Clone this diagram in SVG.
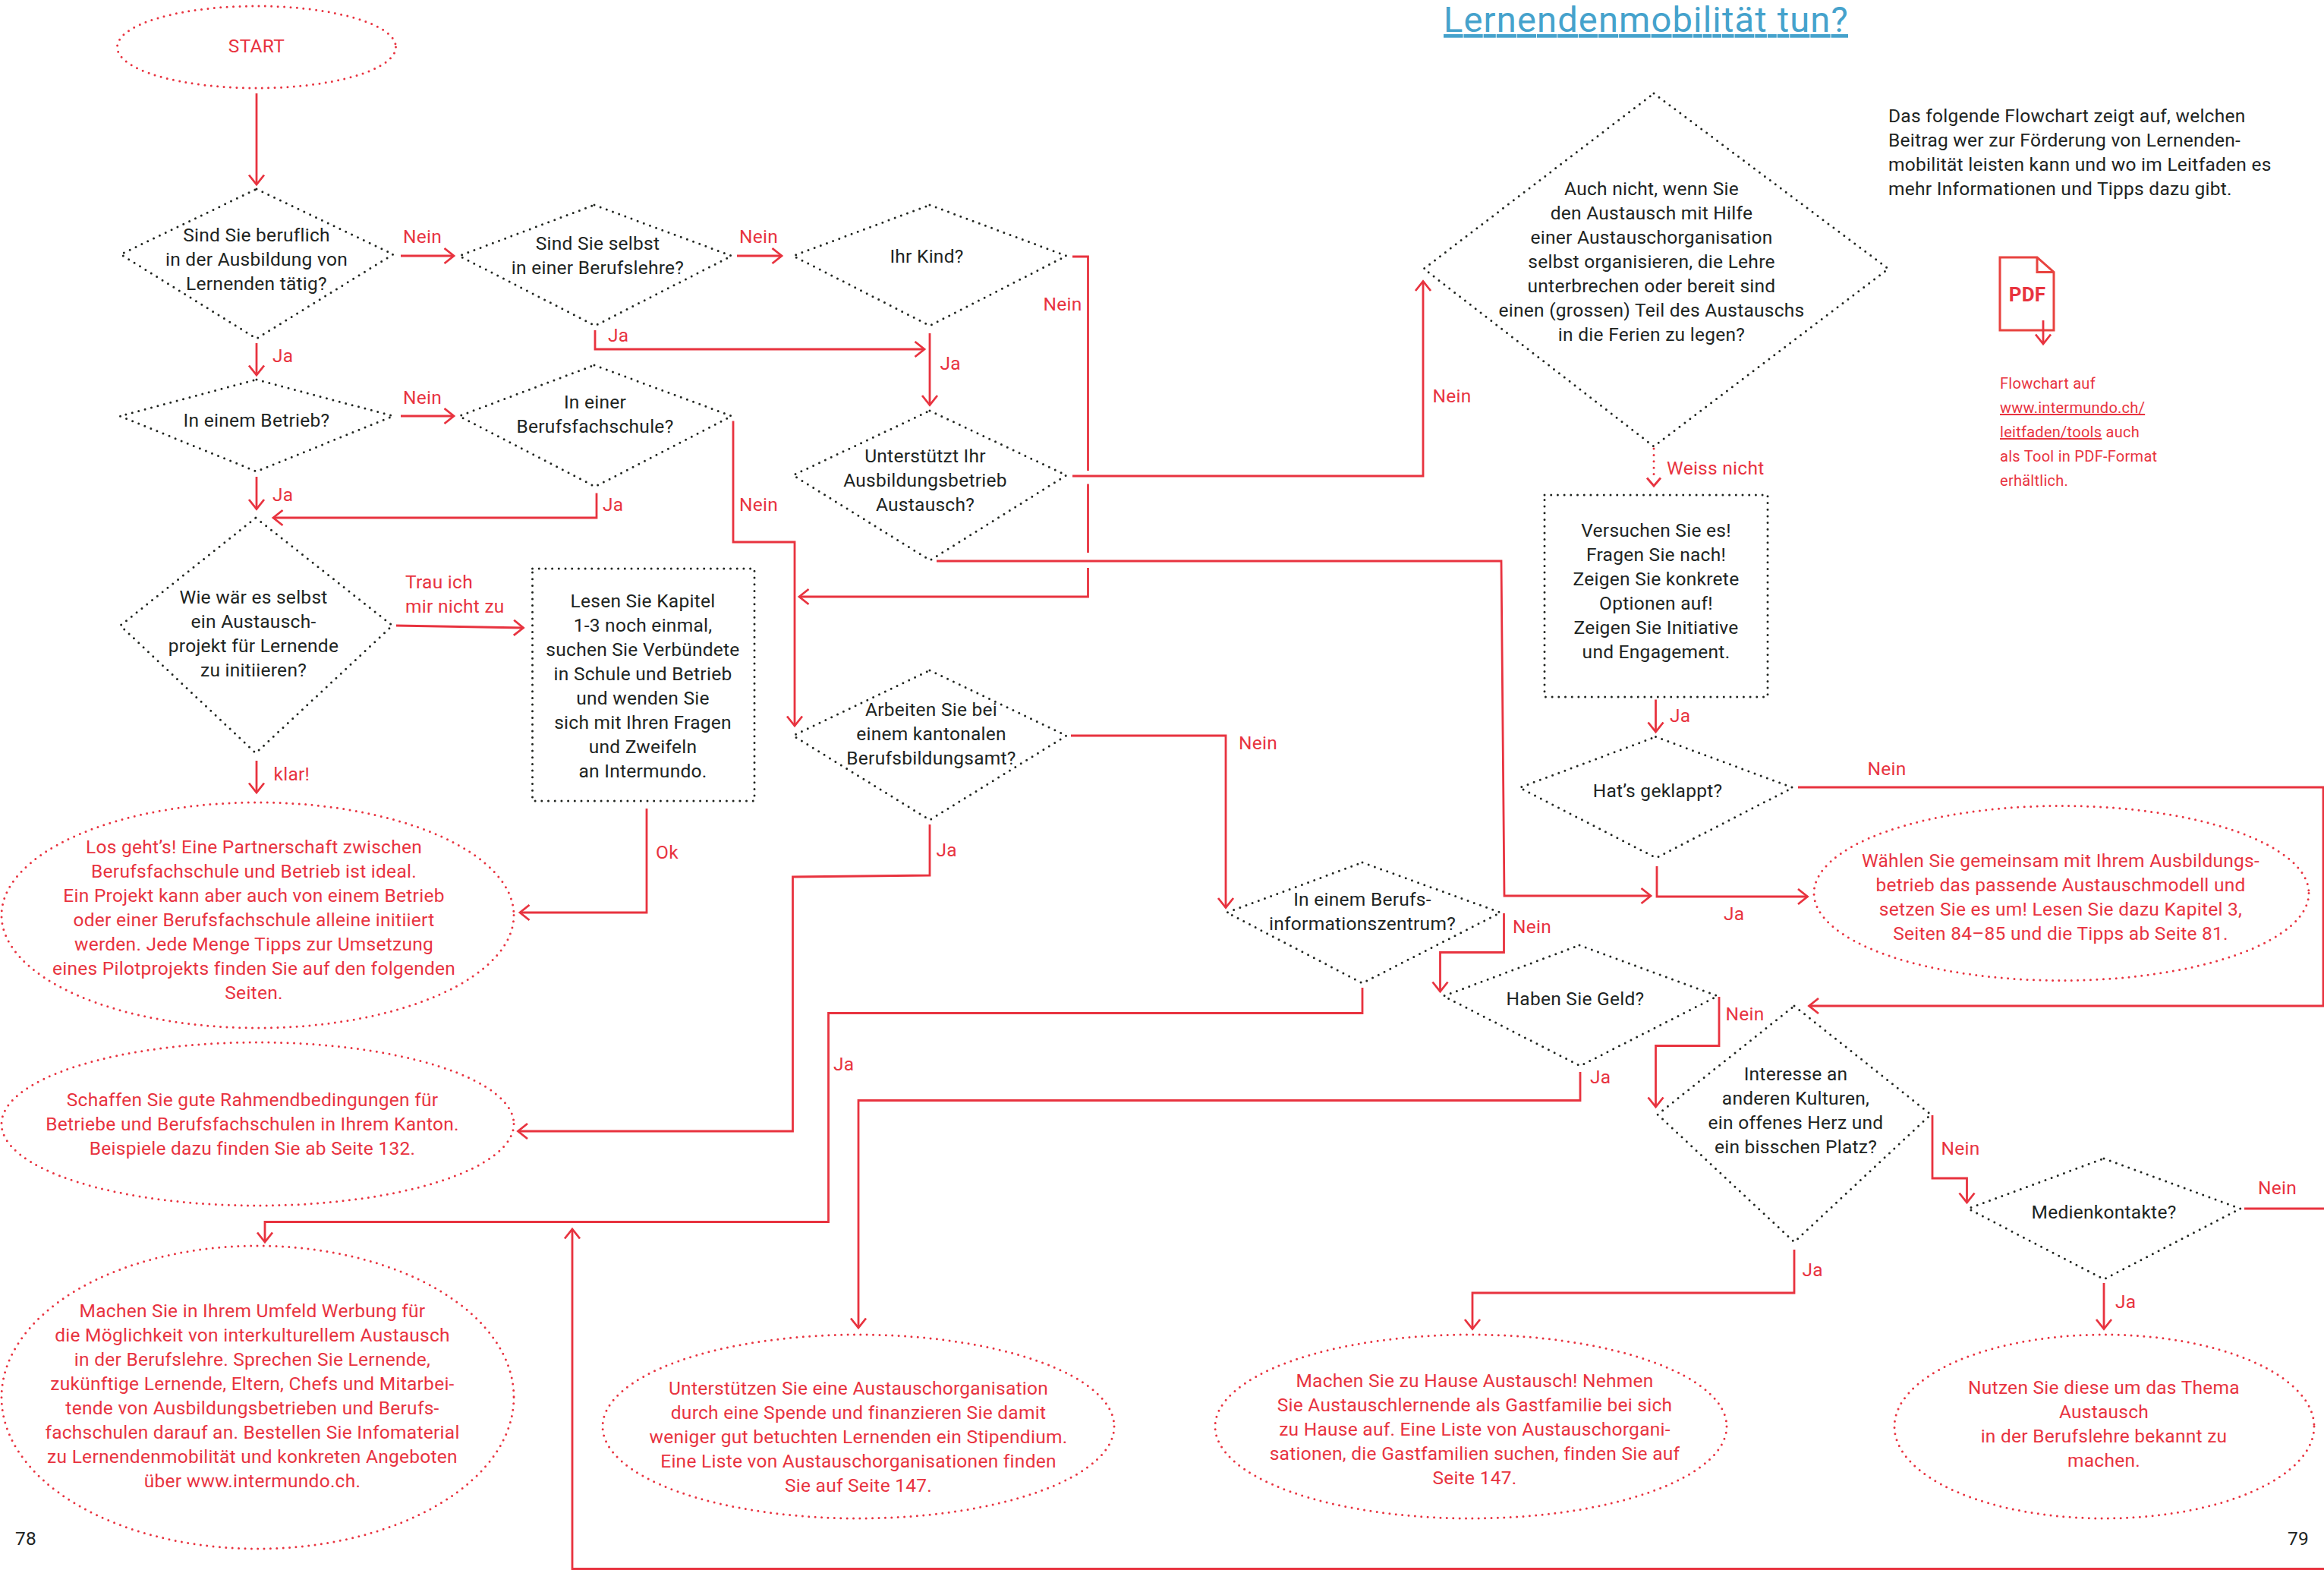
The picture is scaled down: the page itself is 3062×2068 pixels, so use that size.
<svg xmlns="http://www.w3.org/2000/svg" width="3062" height="2068" viewBox="0 0 3062 2068">
<style>
text{font-family:"Roboto","Liberation Sans",sans-serif;font-size:24.5px;font-weight:400;letter-spacing:.27px}
.n{fill:#20241f;text-anchor:middle}
.r{fill:#e8333f;text-anchor:middle}
.l{fill:#e8333f}
.i{fill:#20241f}
.s{font-size:20px}
.d{fill:none;stroke:#20241f;stroke-width:3;stroke-linecap:round;stroke-dasharray:0 8.7}
.e{fill:none;stroke:#e8333f;stroke-width:3;stroke-linecap:round;stroke-dasharray:0 8.4}
.c{fill:none;stroke:#e8333f;stroke-width:2.8;stroke-linejoin:miter}
.a{marker-end:url(#ah)}
</style>
<defs>
<marker id="ah" markerUnits="userSpaceOnUse" markerWidth="30" markerHeight="30" refX="15" refY="15" orient="auto" viewBox="0 0 30 30">
<path d="M2.5 5 L15 15 L2.5 25" fill="none" stroke="#e8333f" stroke-width="2.8"/>
</marker>
</defs>
<rect width="3062" height="2068" fill="#fff"/>

<g id="title"><text x="1902" y="42" style="font-size:47px;fill:#45a2cc;text-decoration:underline" textLength="533">Lernendenmobilität tun?</text></g>
<g id="intro" class="i">
<text class="i" x="2488" y="161">Das folgende Flowchart zeigt auf, welchen</text>
<text class="i" x="2488" y="193">Beitrag wer zur Förderung von Lernenden-</text>
<text class="i" x="2488" y="225">mobilität leisten kann und wo im Leitfaden es</text>
<text class="i" x="2488" y="257">mehr Informationen und Tipps dazu gibt.</text>
</g>
<g id="pdf-icon">
<path d="M2635 339H2684L2706 358.5V435H2635Z M2684 339V358.5H2706" fill="none" stroke="#e8433f" stroke-width="3"/>
<text x="2671" y="397" style="font-size:26px;font-weight:700;fill:#e8333f;text-anchor:middle">PDF</text>
<path class="c a" d="M2692 422V453"/>
</g>
<g id="pdf-note" class="s">
<text class="l s" x="2635" y="512">Flowchart auf</text>
<text class="l s" x="2635" y="544" style="text-decoration:underline">www.intermundo.ch/</text>
<text class="l s" x="2635" y="576"><tspan style="text-decoration:underline">leitfaden/tools</tspan> auch</text>
<text class="l s" x="2635" y="608">als Tool in PDF-Format</text>
<text class="l s" x="2635" y="640">erhältlich.</text>
</g>
<g id="page-numbers">
<text class="i" x="20" y="2035">78</text>
<text class="i" x="3014" y="2035">79</text>
</g>

<g id="connectors">
<path class="c a" d="M338 123V243"/>
<path class="c a" d="M338 452V494"/>
<path class="c a" d="M528 337H598"/>
<path class="c a" d="M971 337H1030"/>
<path class="c a" d="M784 435V460H1218"/>
<path class="c" d="M1413 338H1433.5V620"/>
<path class="c" d="M1433.5 637.5V728"/>
<path class="c a" d="M1433.5 748V786H1053"/>
<path class="c a" d="M1225 439V533.5"/>
<path class="c a" d="M1413 627H1875V370.5"/>
<path class="c a" d="M1234 739H1978L1982 1180H2175"/>
<path class="c a" d="M528 548H598"/>
<path class="c a" d="M338 628V670.5"/>
<path class="c a" d="M786 649.5V682H360"/>
<path class="c a" d="M966 554.5V714H1047V956"/>
<path class="c a" d="M522 824L689.5 827"/>
<path class="c a" d="M338 1002V1044"/>
<path class="c a" d="M852 1065V1202H685"/>
<path class="c a" d="M1225 1086V1153L1044.5 1155V1490H682.5"/>
<path class="c a" d="M1411 969H1615V1195.5"/>
<path class="c a" d="M1795 1301V1334.5H1091.5V1609.5H349V1636"/>
<path class="c a" d="M1981.5 1203V1254.5H1897.5V1306"/>
<path class="c a" d="M2082 1412V1449.5H1131V1749"/>
<path class="c a" d="M2265 1313V1377.5H2181.5V1458"/>
<path class="c a" d="M2546 1469V1552H2591.5V1584"/>
<path class="c a" d="M2364 1646V1703H1940V1750.5"/>
<path class="c a" d="M2772 1690V1750.5"/>
<path class="c" d="M2957 1592H3062"/>
<path class="c a" d="M3062 2066.5H754V1619"/>
<path class="e" d="M2179 591V632"/>
<path class="c" d="M2170 629.5L2179 640L2188 629.5"/>
<path class="c a" d="M2181.5 921.5V964"/>
<path class="c a" d="M2183 1141V1181H2381.5"/>
<path class="c a" d="M2369 1037H3061V1325H2383.5"/>
</g>

<g id="connector-labels">
<text class="l" x="531" y="320">Nein</text>
<text class="l" x="359" y="477">Ja</text>
<text class="l" x="974" y="320">Nein</text>
<text class="l" x="801" y="450">Ja</text>
<text class="l" x="1374.5" y="409">Nein</text>
<text class="l" x="1238.5" y="486.5">Ja</text>
<text class="l" x="531" y="532">Nein</text>
<text class="l" x="359" y="660">Ja</text>
<text class="l" x="794" y="673">Ja</text>
<text class="l" x="974" y="673">Nein</text>
<text class="l" x="1887.5" y="530">Nein</text>
<text class="l" x="2196" y="625">Weiss nicht</text>
<text class="l" x="2200" y="951">Ja</text>
<text class="l" x="2460.5" y="1021">Nein</text>
<text class="l" x="2271" y="1211.5">Ja</text>
<text class="l" x="1993" y="1229">Nein</text>
<text class="l" x="1632" y="987">Nein</text>
<text class="l" x="1233.5" y="1128">Ja</text>
<text class="l" x="1098" y="1410">Ja</text>
<text class="l" x="2273.5" y="1344">Nein</text>
<text class="l" x="2095" y="1427">Ja</text>
<text class="l" x="2557.5" y="1520.5">Nein</text>
<text class="l" x="2374.5" y="1681">Ja</text>
<text class="l" x="2787" y="1723">Ja</text>
<text class="l" x="2975" y="1573">Nein</text>
<text class="l" x="534" y="775">Trau ich</text>
<text class="l" x="534" y="807">mir nicht zu</text>
<text class="l" x="360.5" y="1028">klar!</text>
<text class="l" x="864" y="1131">Ok</text>
</g>

<g id="n-start"><ellipse class="e" cx="338" cy="62" rx="183.5" ry="54"/><text class="r" x="338" y="69">START</text></g>

<g id="n-beruflich"><polygon class="d" points="338,249 518,335 338,446 159,335"/>
<text class="n" x="338" y="318">Sind Sie beruflich</text><text class="n" x="338" y="350">in der Ausbildung von</text><text class="n" x="338" y="382">Lernenden tätig?</text></g>
<g id="n-selbst"><polygon class="d" points="783,270 964,337 784,429 605,337"/>
<text class="n" x="787.5" y="329">Sind Sie selbst</text><text class="n" x="787.5" y="361">in einer Berufslehre?</text></g>
<g id="n-kind"><polygon class="d" points="1225,270 1405,337 1225,429 1045,337"/>
<text class="n" x="1221" y="346">Ihr Kind?</text></g>
<g id="n-betrieb"><polygon class="d" points="338,500 518,548 338,621 158,548"/>
<text class="n" x="338" y="562">In einem Betrieb?</text></g>
<g id="n-fachschule"><polygon class="d" points="783,481 964,548 784,641 605,548"/>
<text class="n" x="784" y="538">In einer</text><text class="n" x="784" y="570">Berufsfachschule?</text></g>
<g id="n-initiieren"><polygon class="d" points="337,682 517,824 337,992 158.5,824"/>
<text class="n" x="334" y="795">Wie wär es selbst</text><text class="n" x="334" y="827">ein Austausch-</text><text class="n" x="334" y="859">projekt für Lernende</text><text class="n" x="334" y="891">zu initiieren?</text></g>
<g id="n-kapitel"><rect class="d" x="701.5" y="749" width="292.5" height="306"/>
<text class="n" x="847" y="800">Lesen Sie Kapitel</text><text class="n" x="847" y="832">1-3 noch einmal,</text><text class="n" x="847" y="864">suchen Sie Verbündete</text><text class="n" x="847" y="896">in Schule und Betrieb</text><text class="n" x="847" y="928">und wenden Sie</text><text class="n" x="847" y="960">sich mit Ihren Fragen</text><text class="n" x="847" y="992">und Zweifeln</text><text class="n" x="847" y="1024">an Intermundo.</text></g>
<g id="n-unterstuetzt"><polygon class="d" points="1225,541 1405,626 1225.5,738 1045,626"/>
<text class="n" x="1219" y="609">Unterstützt Ihr</text><text class="n" x="1219" y="641">Ausbildungsbetrieb</text><text class="n" x="1219" y="673">Austausch?</text></g>
<g id="n-amt"><polygon class="d" points="1225,883 1405,969 1225,1080 1045,969"/>
<text class="n" x="1227" y="943">Arbeiten Sie bei</text><text class="n" x="1227" y="975">einem kantonalen</text><text class="n" x="1227" y="1007">Berufsbildungsamt?</text></g>
<g id="n-biz"><polygon class="d" points="1795,1136 1977,1202 1795,1295 1616.5,1202"/>
<text class="n" x="1795" y="1193">In einem Berufs-</text><text class="n" x="1795" y="1225">informationszentrum?</text></g>
<g id="n-geld"><polygon class="d" points="2081,1245 2263,1312 2082,1404 1902,1312"/>
<text class="n" x="2075.5" y="1324">Haben Sie Geld?</text></g>
<g id="n-interesse"><polygon class="d" points="2364,1325 2544,1468 2364,1636 2184,1468"/>
<text class="n" x="2366" y="1423">Interesse an</text><text class="n" x="2366" y="1455">anderen Kulturen,</text><text class="n" x="2366" y="1487">ein offenes Herz und</text><text class="n" x="2366" y="1519">ein bisschen Platz?</text></g>
<g id="n-medien"><polygon class="d" points="2772,1526 2952,1592 2772,1685 2593,1592"/>
<text class="n" x="2772" y="1604.5">Medienkontakte?</text></g>
<g id="n-geklappt"><polygon class="d" points="2181.5,970.5 2362,1037.5 2182,1130 2002,1037.5"/>
<text class="n" x="2184" y="1050">Hat’s geklappt?</text></g>
<g id="n-auch"><polygon class="d" points="2179,123 2488,354 2179,588 1876,354"/>
<text class="n" x="2176" y="257">Auch nicht, wenn Sie</text><text class="n" x="2176" y="289">den Austausch mit Hilfe</text><text class="n" x="2176" y="321">einer Austauschorganisation</text><text class="n" x="2176" y="353">selbst organisieren, die Lehre</text><text class="n" x="2176" y="385">unterbrechen oder bereit sind</text><text class="n" x="2176" y="417">einen (grossen) Teil des Austauschs</text><text class="n" x="2176" y="449">in die Ferien zu legen?</text></g>
<g id="n-versuchen"><rect class="d" x="2035" y="652" width="294" height="266"/>
<text class="n" x="2182" y="707">Versuchen Sie es!</text><text class="n" x="2182" y="739">Fragen Sie nach!</text><text class="n" x="2182" y="771">Zeigen Sie konkrete</text><text class="n" x="2182" y="803">Optionen auf!</text><text class="n" x="2182" y="835">Zeigen Sie Initiative</text><text class="n" x="2182" y="867">und Engagement.</text></g>

<g id="n-losgehts"><ellipse class="e" cx="339.5" cy="1205.5" rx="337.5" ry="148.5"/>
<text class="r" x="334.5" y="1124">Los geht’s! Eine Partnerschaft zwischen</text><text class="r" x="334.5" y="1156">Berufsfachschule und Betrieb ist ideal.</text><text class="r" x="334.5" y="1188">Ein Projekt kann aber auch von einem Betrieb</text><text class="r" x="334.5" y="1220">oder einer Berufsfachschule alleine initiiert</text><text class="r" x="334.5" y="1252">werden. Jede Menge Tipps zur Umsetzung</text><text class="r" x="334.5" y="1284">eines Pilotprojekts finden Sie auf den folgenden</text><text class="r" x="334.5" y="1316">Seiten.</text></g>
<g id="n-schaffen"><ellipse class="e" cx="339.5" cy="1480.5" rx="337.5" ry="107.5"/>
<text class="r" x="332.5" y="1457">Schaffen Sie gute Rahmendbedingungen für</text><text class="r" x="332.5" y="1489">Betriebe und Berufsfachschulen in Ihrem Kanton.</text><text class="r" x="332.5" y="1521">Beispiele dazu finden Sie ab Seite 132.</text></g>
<g id="n-werbung"><ellipse class="e" cx="339.5" cy="1840.5" rx="337.5" ry="199.5"/>
<text class="r" x="332.5" y="1735">Machen Sie in Ihrem Umfeld Werbung für</text><text class="r" x="332.5" y="1767">die Möglichkeit von interkulturellem Austausch</text><text class="r" x="332.5" y="1799">in der Berufslehre. Sprechen Sie Lernende,</text><text class="r" x="332.5" y="1831">zukünftige Lernende, Eltern, Chefs und Mitarbei-</text><text class="r" x="332.5" y="1863">tende von Ausbildungsbetrieben und Berufs-</text><text class="r" x="332.5" y="1895">fachschulen darauf an. Bestellen Sie Infomaterial</text><text class="r" x="332.5" y="1927">zu Lernendenmobilität und konkreten Angeboten</text><text class="r" x="332.5" y="1959">über www.intermundo.ch.</text></g>
<g id="n-spende"><ellipse class="e" cx="1131" cy="1879" rx="337" ry="121"/>
<text class="r" x="1131" y="1836.5">Unterstützen Sie eine Austauschorganisation</text><text class="r" x="1131" y="1868.5">durch eine Spende und finanzieren Sie damit</text><text class="r" x="1131" y="1900.5">weniger gut betuchten Lernenden ein Stipendium.</text><text class="r" x="1131" y="1932.5">Eine Liste von Austauschorganisationen finden</text><text class="r" x="1131" y="1964.5">Sie auf Seite 147.</text></g>
<g id="n-gastfamilie"><ellipse class="e" cx="1938" cy="1879" rx="337" ry="121"/>
<text class="r" x="1943" y="1827">Machen Sie zu Hause Austausch! Nehmen</text><text class="r" x="1943" y="1859">Sie Austauschlernende als Gastfamilie bei sich</text><text class="r" x="1943" y="1891">zu Hause auf. Eine Liste von Austauschorgani-</text><text class="r" x="1943" y="1923">sationen, die Gastfamilien suchen, finden Sie auf</text><text class="r" x="1943" y="1955">Seite 147.</text></g>
<g id="n-nutzen"><ellipse class="e" cx="2772.5" cy="1879" rx="276.5" ry="121"/>
<text class="r" x="2772" y="1836">Nutzen Sie diese um das Thema</text><text class="r" x="2772" y="1868">Austausch</text><text class="r" x="2772" y="1900">in der Berufslehre bekannt zu</text><text class="r" x="2772" y="1932">machen.</text></g>
<g id="n-waehlen"><ellipse class="e" cx="2716" cy="1176.5" rx="326" ry="115"/>
<text class="r" x="2715" y="1142">Wählen Sie gemeinsam mit Ihrem Ausbildungs-</text><text class="r" x="2715" y="1174">betrieb das passende Austauschmodell und</text><text class="r" x="2715" y="1206">setzen Sie es um! Lesen Sie dazu Kapitel 3,</text><text class="r" x="2715" y="1238">Seiten 84–85 und die Tipps ab Seite 81.</text></g>
</svg>
